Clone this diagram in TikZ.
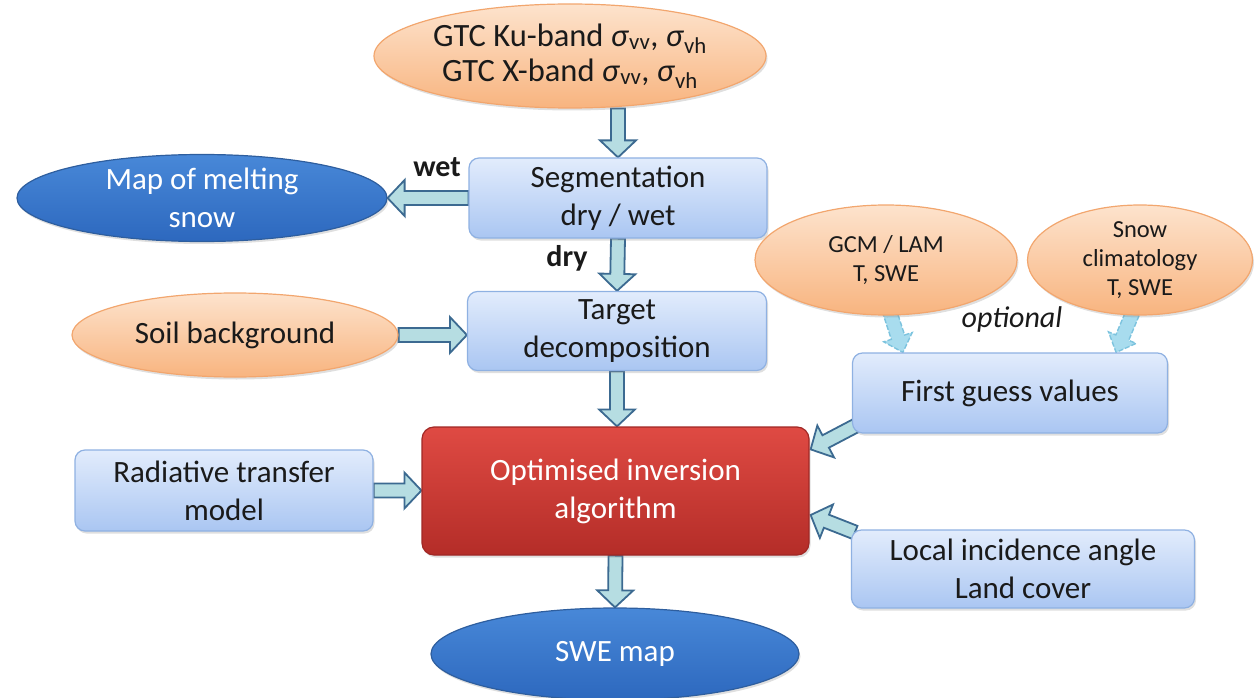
\documentclass[tikz,border=0pt]{standalone}
\usepackage{fontspec}
\setmainfont{Carlito}
\usetikzlibrary{shapes.geometric,calc,shadows}
\pgfdeclarelayer{background}
\pgfsetlayers{background,main}

\definecolor{orTop}{HTML}{FDE3CD}
\definecolor{orBot}{HTML}{F8B47F}
\definecolor{orBorder}{HTML}{F2A66E}
\definecolor{blTop}{HTML}{E2ECFC}
\definecolor{blBot}{HTML}{AAC6F2}
\definecolor{blBorder}{HTML}{8FB1E2}
\definecolor{dbTop}{HTML}{4888D8}
\definecolor{dbBot}{HTML}{2D68BE}
\definecolor{dbBorder}{HTML}{2E5E9E}
\definecolor{rdTop}{HTML}{DF4A43}
\definecolor{rdBot}{HTML}{B42D28}
\definecolor{rdBorder}{HTML}{A02825}
\definecolor{arFill}{HTML}{B6DDE2}
\definecolor{arBorder}{HTML}{3C6A91}
\definecolor{opFill}{HTML}{A8DCEE}
\definecolor{opBorder}{HTML}{7CC3DE}
\definecolor{ink}{HTML}{1A1A1A}

\newcommand\sig[1]{\textit{σ}\textsubscript{#1}}
\def\bsh{7pt}\def\bhw{18pt}\def\bhl{17pt}
\newcommand\blockarrow[3][barrowstyle]{%
  \path[#1] let \p1=($(#3)-(#2)$), \n1={atan2(\y1,\x1)}, \n2={veclen(\x1,\y1)} in
    [shift={(#2)}, rotate=\n1]
    (0pt,-\bsh) -- ({\n2*1pt-\bhl},-\bsh) -- ({\n2*1pt-\bhl},-\bhw) -- ({\n2*1pt},0pt)
    -- ({\n2*1pt-\bhl},\bhw) -- ({\n2*1pt-\bhl},\bsh) -- (0pt,\bsh) -- cycle;}

\tikzset{
  big/.style={font=\fontsize{31}{38}\selectfont, align=center},
  small/.style={font=\fontsize{24.5}{29}\selectfont, align=center},
  shadowed/.style={drop shadow={opacity=0.25, shadow xshift=1.5pt, shadow yshift=-2.5pt}},
  orangeell/.style={ellipse, inner sep=0pt, draw=orBorder, line width=1.2pt,
    top color=orTop, bottom color=orBot, text=ink, shadowed},
  bluebox/.style={rectangle, rounded corners=10pt, inner sep=0pt, draw=blBorder, line width=1.2pt,
    top color=blTop, bottom color=blBot, text=ink, shadowed},
  darkell/.style={ellipse, inner sep=0pt, draw=dbBorder, line width=1.2pt,
    top color=dbTop, bottom color=dbBot, text=white, shadowed},
  redbox/.style={rectangle, rounded corners=12pt, inner sep=0pt, draw=rdBorder, line width=1.2pt,
    top color=rdTop, bottom color=rdBot, text=white, shadowed},
  barrowstyle/.style={draw=arBorder, fill=arFill, line width=1.8pt, line join=miter},
  optarrow/.style={draw=opBorder, fill=opFill, line width=1.4pt, dash pattern=on 5pt off 2pt, line join=miter},
  lbl/.style={font=\fontsize{30}{36}\selectfont\bfseries, text=ink, inner sep=0pt}
}

\begin{document}
\begin{tikzpicture}[x=1pt, y=-1pt]
\useasboundingbox (0,0) rectangle (1256,698);

\node[orangeell, font=\fontsize{32.5}{35}\selectfont, align=center, minimum width=392pt, minimum height=104pt] (top) at (570,56)
  {\raisebox{-4pt}{}GTC Ku-band \sig{vv}, \sig{vh}\\GTC X-band \sig{vv}, \sig{vh}};
\node[bluebox, big, minimum width=298pt, minimum height=80pt] (seg) at (618,198) {Segmentation\\dry / wet};
\node[darkell, big, minimum width=370pt, minimum height=87pt] (map) at (202,198) {Map of melting\\snow};
\node[bluebox, big, minimum width=299pt, minimum height=79pt] (tgt) at (617,331) {Target\\decomposition};
\node[orangeell, big, minimum width=326pt, minimum height=84pt] (soil) at (235,335) {Soil background};
\node[redbox, big, minimum width=387pt, minimum height=128pt] (opt) at (615.5,491) {Optimised inversion\\algorithm};
\node[bluebox, big, minimum width=298pt, minimum height=81pt] (rad) at (224,490.5) {Radiative transfer\\model};
\node[darkell, big, minimum width=368pt, minimum height=92pt] (swe) at (615,654) {SWE map};
\node[orangeell, small, minimum width=262pt, minimum height=110pt] (gcm) at (886,260) {GCM / LAM\\T, SWE};
\node[orangeell, small, minimum width=225pt, minimum height=110pt] (snow) at (1140,260) {Snow\\climatology\\T, SWE};
\node[bluebox, big, minimum width=315pt, minimum height=80pt] (fg) at (1010,393) {First guess values};
\node[bluebox, big, minimum width=343pt, minimum height=78pt] (loc) at (1023,569) {Local incidence angle\\Land cover};

\node[lbl] (wet) at (437,167) {wet};
\node[lbl] (dry) at (567,258) {dry};
\node[font=\fontsize{30}{36}\selectfont\itshape, text=ink, inner sep=0pt] (optl) at (1012,320) {optional};

\coordinate (topout) at (seg.north |- top.south);
\coordinate (soilin) at (tgt.west |- soil.east);
\coordinate (optin) at (opt.north -| tgt.south);
\coordinate (radin) at (opt.west |- rad.east);
\coordinate (fgA) at ($(fg.south west)+(4,-8)$);
\coordinate (optA) at ($(opt.north east)+(1,23)$);
\coordinate (locA) at ($(loc.north west)+(4,3)$);
\coordinate (optB) at ($(opt.east)+(1,24)$);
\coordinate (gcmA) at ($(gcm.south)+(3,-6)$);
\coordinate (fgB) at ($(fg.north west)+(51,0)$);
\coordinate (snowA) at ($(snow.south)+(-6,-6)$);
\coordinate (fgC) at ($(fg.north east)+(-52,0)$);

\begin{pgfonlayer}{background}
\blockarrow{topout}{seg.north}
\blockarrow{seg.west}{map.east}
\blockarrow{seg.south}{tgt.north}
\blockarrow{soil.east}{soilin}
\blockarrow{tgt.south}{optin}
\blockarrow{rad.east}{radin}
\blockarrow{opt.south}{swe.north}
\blockarrow{fgA}{optA}
\blockarrow{locA}{optB}
{\def\bsh{7pt}\def\bhw{15pt}\def\bhl{16pt}
\blockarrow[optarrow]{gcmA}{fgB}
\blockarrow[optarrow]{snowA}{fgC}}
\end{pgfonlayer}
\end{tikzpicture}
\end{document}
